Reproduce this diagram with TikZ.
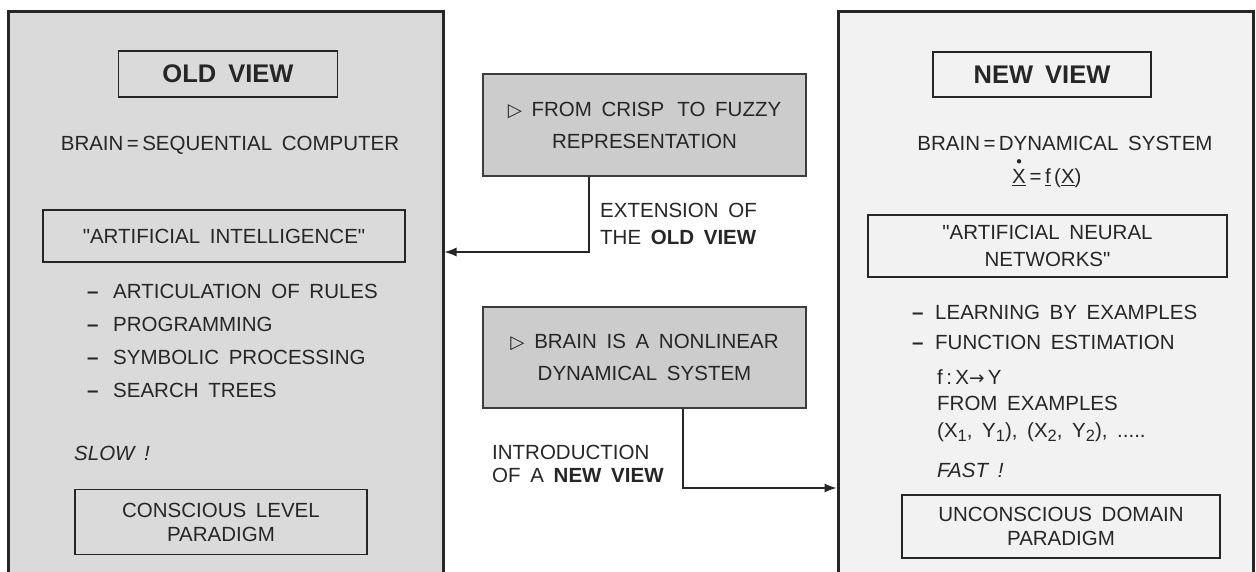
\documentclass[tikz,border=0pt]{standalone}
\usepackage{fontspec}
\setmainfont{Liberation Sans}[WordSpace=1.7, Ligatures=TeXOff]
\newfontfamily\symbolfont{DejaVu Sans}
\usetikzlibrary{arrows.meta}

\definecolor{ink}{HTML}{262626}
\definecolor{oldfill}{HTML}{DADADA}
\definecolor{newfill}{HTML}{F2F2F2}
\definecolor{notefill}{HTML}{CCCCCC}

\newcommand{\bul}[1]{\makebox[#1][l]{\textbf{–}}}
\newcommand{\lowsub}[1]{\raisebox{-0.4ex}{\scalebox{0.8}{#1}}}
\newcommand{\pointer}{{\symbolfont\scalebox{0.9}{▷}}}

\tikzset{
  panel/.style={draw=ink, line width=3pt, inner sep=0pt},
  titlebox/.style={draw=ink, line width=1.6pt, font=\fontsize{25.5}{28}\selectfont\bfseries},
  labelbox/.style={draw=ink, line width=1.3pt, align=center, font=\fontsize{20.5}{24}\selectfont},
  notebox/.style={draw=ink!90, fill=notefill, line width=2.5pt, align=center,
    font=\fontsize{20.5}{32}\selectfont},
  txt/.style={inner sep=0pt, text height=15pt, text depth=0pt},
  item/.style={txt, anchor=west, align=left},
  caption/.style={inner sep=0pt, anchor=north west, align=left},
  link/.style={-{Latex[length=12pt,width=9pt]}, line width=1.2pt, draw=ink},
}

\begin{document}
\begin{tikzpicture}[x=1pt, y=-1pt,
  every node/.style={text=ink, font=\fontsize{20.5}{24}\selectfont}]
  \useasboundingbox[fill=white] (0,0) rectangle (1256,571);

  % Panels
  \node[panel, fill=oldfill, minimum width=435pt, minimum height=569pt] (oldpanel) at (225.5,295.5) {};
  \node[panel, fill=newfill, minimum width=415pt, minimum height=569pt] (newpanel) at (1045.5,295.5) {};

  % Old view
  \node[titlebox, minimum width=219pt, minimum height=46pt] (oldtitle) at (228,74) {OLD VIEW};
  \node[txt] (oldbrain) at (230,143) {BRAIN\,=\,SEQUENTIAL COMPUTER};
  \node[labelbox, minimum width=362pt, minimum height=52pt] (aibox) at (224,236) {"ARTIFICIAL INTELLIGENCE"};
  \foreach \t [count=\i] in {ARTICULATION OF RULES, PROGRAMMING, SYMBOLIC PROCESSING, SEARCH TREES}
    \node[item] (olditem\i) at (87,{258+33*\i}) {\bul{26pt}\t};
  \node[item] (slow) at (74,453) {\itshape SLOW !};
  \node[labelbox, minimum width=292pt, minimum height=65pt] (conscious) at (221,522)
    {CONSCIOUS LEVEL\\PARADIGM};

  % Middle notes
  \node[notebox, minimum width=323pt, minimum height=102pt] (crisp) at (644.5,125)
    {\pointer\ FROM CRISP \,TO FUZZY\\REPRESENTATION};
  \node[notebox, minimum width=323pt, minimum height=101pt] (nonlin) at (644.5,357.5)
    {\pointer\ BRAIN IS A NONLINEAR\\DYNAMICAL SYSTEM};
  \node[caption, font=\fontsize{20.5}{27}\selectfont] (extlabel) at (600,202.5)
    {EXTENSION OF\\THE \textbf{OLD VIEW}};
  \node[caption, font=\fontsize{20.5}{23}\selectfont] (introlabel) at (492,444.5)
    {INTRODUCTION\\OF A \textbf{NEW VIEW}};

  % Connectors
  \coordinate (extbend) at (589,252);
  \coordinate (introbend) at (683,488);
  \draw[link] (crisp.south -| extbend) |- (oldpanel.east |- extbend);
  \draw[link] (nonlin.south -| introbend) |- (newpanel.west |- introbend);

  % New view
  \node[titlebox, minimum width=218pt, minimum height=45pt] (newtitle) at (1042,74.5) {NEW VIEW};
  \node[txt] (newbrain) at (1065,143) {BRAIN\,=\,DYNAMICAL SYSTEM};
  \node[item] (dynX) at (1012,176) {\underline{X}};
  \node[item] (dynrest) at (dynX.east) {\,=\,\underline{f}\,(\underline{X})};
  \fill[ink] ([yshift=7pt]dynX.north) circle (2.2pt);
  \node[labelbox, minimum width=359pt, minimum height=62pt, font=\fontsize{20.5}{27}\selectfont] (annbox) at (1047.5,246)
    {"ARTIFICIAL NEURAL\\NETWORKS"};
  \foreach \t [count=\i] in {LEARNING BY EXAMPLES, FUNCTION ESTIMATION}
    \node[item] (newitem\i) at (912,{282+30*\i}) {\bul{23pt}\t};
  \node[item] (mapping) at (937,377) {f\,:\,X{\symbolfont\scalebox{0.9}{→}}\,Y};
  \node[item] (fromex) at (937,403) {FROM EXAMPLES};
  \node[item] (pairs) at (937,430)
    {(X\lowsub{1}, Y\lowsub{1}), (X\lowsub{2}, Y\lowsub{2}), .....};
  \node[item] (fast) at (937,470) {\itshape FAST !};
  \node[labelbox, minimum width=318pt, minimum height=63pt] (unconscious) at (1061,526.5)
    {UNCONSCIOUS DOMAIN\\PARADIGM};
\end{tikzpicture}
\end{document}
